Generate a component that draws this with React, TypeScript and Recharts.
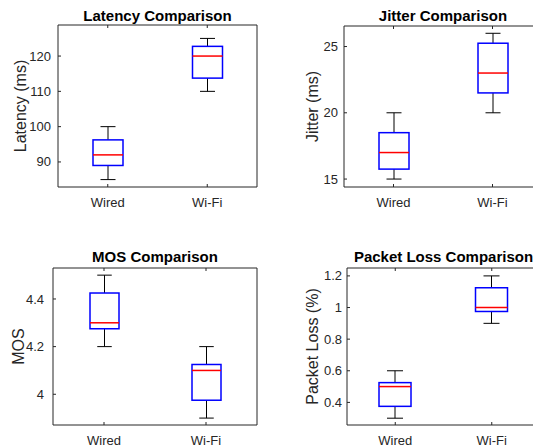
import { ComposedChart, Bar, XAxis, YAxis } from "recharts";

const categories = ["Wired", "Wi-Fi"];

const latencyMin = [85, 110];
const latencyQ1 = [89, 113.75];
const latencyMedian = [92, 120];
const latencyQ3 = [96.25, 122.75];
const latencyMax = [100, 125];
const latencyTicks = [90, 100, 110, 120];

const jitterMin = [15, 20];
const jitterQ1 = [15.75, 21.5];
const jitterMedian = [17, 23];
const jitterQ3 = [18.5, 25.25];
const jitterMax = [20, 26];
const jitterTicks = [15, 20, 25];

const mosMin = [4.2, 3.9];
const mosQ1 = [4.275, 3.975];
const mosMedian = [4.3, 4.1];
const mosQ3 = [4.425, 4.125];
const mosMax = [4.5, 4.2];
const mosTicks = [4, 4.2, 4.4];

const lossMin = [0.3, 0.9];
const lossQ1 = [0.375, 0.975];
const lossMedian = [0.5, 1.0];
const lossQ3 = [0.525, 1.125];
const lossMax = [0.6, 1.2];
const lossTicks = [0.4, 0.6, 0.8, 1, 1.2];

const AXIS = "#262626";
const FONT = "'Liberation Sans', Arial, Helvetica, sans-serif";

function rows(min: number[], q1: number[], med: number[], q3: number[], max: number[]) {
  return categories.map((name, i) => ({ name, min: min[i], q1: q1[i], med: med[i], q3: q3[i], max: max[i] }));
}

// box drawn inside the range bar [min, max]; inner values placed on the same linear scale
function BoxShape(props: any) {
  const { x, y, width, height, payload } = props;
  const { min, q1, med, q3, max } = payload;
  const py = (v: number) => y + (height * (max - v)) / (max - min);
  const cx = x + width / 2;
  const cap = width / 4;
  return (
    <g>
      <line x1={cx} x2={cx} y1={py(max)} y2={py(q3)} stroke="#000" strokeWidth={1} />
      <line x1={cx} x2={cx} y1={py(q1)} y2={py(min)} stroke="#000" strokeWidth={1} />
      <line x1={cx - cap} x2={cx + cap} y1={py(max)} y2={py(max)} stroke="#000" strokeWidth={1} />
      <line x1={cx - cap} x2={cx + cap} y1={py(min)} y2={py(min)} stroke="#000" strokeWidth={1} />
      <rect x={x} y={py(q3)} width={width} height={py(q1) - py(q3)} fill="none" stroke="#0000ff" strokeWidth={1.5} />
      <line x1={x} x2={x + width} y1={py(med)} y2={py(med)} stroke="#ff0000" strokeWidth={1.5} />
    </g>
  );
}

function Panel(p: any) {
  const { title, yLabel, data, domain, ticks, left, top, width, height, yw, mt, mr, xh, barSize, gap, labelX, titleOffset } = p;
  return (
    <div style={{ position: "absolute", left, top }}>
      <ComposedChart width={width} height={height} data={data} margin={{ top: 0, right: mr, bottom: 0, left: 0 }}>
        <XAxis
          xAxisId="b"
          dataKey="name"
          height={xh}
          tickSize={0}
          tickMargin={11}
          axisLine={{ stroke: AXIS }}
          tickLine={false}
          tick={(t: any) => (
            <g>
              <text x={t.x} y={t.y} dy="0.71em" textAnchor="middle" fontSize={13} fill={AXIS}>
                {t.payload.value}
              </text>
              <line x1={t.x} x2={t.x} y1={t.y - 11} y2={t.y - 14} stroke={AXIS} />
            </g>
          )}
        />
        <XAxis
          xAxisId="t"
          dataKey="name"
          orientation="top"
          height={mt}
          tickSize={0}
          tickMargin={0}
          axisLine={{ stroke: AXIS }}
          tickLine={false}
          tick={(t: any) => <line x1={t.x} x2={t.x} y1={t.y} y2={t.y + 3} stroke={AXIS} />}
          label={{ value: title, position: "insideBottom", offset: titleOffset, fontSize: 15, fontWeight: "bold", fill: "#000" }}
        />
        <YAxis
          yAxisId="l"
          type="number"
          width={yw}
          domain={domain}
          ticks={ticks}
          interval={0}
          tickSize={0}
          tickMargin={gap}
          axisLine={{ stroke: AXIS }}
          tickLine={false}
          tick={(t: any) => (
            <g>
              <text x={t.x} y={t.y} dy="0.35em" textAnchor="end" fontSize={13} fill={AXIS}>
                {String(t.payload.value)}
              </text>
              <line x1={t.x + gap} x2={t.x + gap + 3} y1={t.y} y2={t.y} stroke={AXIS} />
            </g>
          )}
          label={{ value: yLabel, angle: -90, position: "insideLeft", offset: labelX, fontSize: 16, fill: AXIS, style: { textAnchor: "middle" } }}
        />
        <YAxis
          yAxisId="r"
          type="number"
          orientation="right"
          width={1}
          domain={domain}
          ticks={ticks}
          interval={0}
          tickSize={0}
          tickMargin={0}
          axisLine={{ stroke: AXIS }}
          tickLine={false}
          tick={(t: any) => <line x1={t.x - 3} x2={t.x} y1={t.y} y2={t.y} stroke={AXIS} />}
        />
        <Bar
          xAxisId="b"
          yAxisId="l"
          dataKey={(d: any) => [d.min, d.max]}
          barSize={barSize}
          shape={BoxShape}
          isAnimationActive={false}
        />
      </ComposedChart>
    </div>
  );
}

export default function App() {
  return (
    <div
      style={{
        position: "absolute",
        left: 0,
        top: 0,
        width: 533,
        height: 447,
        overflow: "hidden",
        background: "#fff",
        fontFamily: FONT,
      }}
    >
      <Panel
        title="Latency Comparison"
        yLabel="Latency (ms)"
        data={rows(latencyMin, latencyQ1, latencyMedian, latencyQ3, latencyMax)}
        domain={[82.9, 128.8]}
        ticks={latencyTicks}
        left={0}
        top={0}
        width={270}
        height={215}
        yw={58}
        mt={25}
        mr={12}
        xh={28}
        barSize={30}
        gap={7}
        labelX={20}
        titleOffset={4}
      />
      <Panel
        title="Jitter Comparison"
        yLabel="Jitter (ms)"
        data={rows(jitterMin, jitterQ1, jitterMedian, jitterQ3, jitterMax)}
        domain={[14.4, 26.55]}
        ticks={jitterTicks}
        left={270}
        top={0}
        width={290}
        height={215}
        yw={74}
        mt={26}
        mr={17}
        xh={28}
        barSize={30}
        gap={6}
        labelX={42}
        titleOffset={5}
      />
      <Panel
        title="MOS Comparison"
        yLabel="MOS"
        data={rows(mosMin, mosQ1, mosMedian, mosQ3, mosMax)}
        domain={[3.871, 4.53]}
        ticks={mosTicks}
        left={0}
        top={230}
        width={270}
        height={217}
        yw={53}
        mt={38}
        mr={12}
        xh={22}
        barSize={29}
        gap={9}
        labelX={18}
        titleOffset={6}
      />
      <Panel
        title="Packet Loss Comparison"
        yLabel="Packet Loss (%)"
        data={rows(lossMin, lossQ1, lossMedian, lossQ3, lossMax)}
        domain={[0.257, 1.25]}
        ticks={lossTicks}
        left={270}
        top={230}
        width={290}
        height={217}
        yw={77}
        mt={38}
        mr={19}
        xh={22}
        barSize={32}
        gap={5}
        labelX={42}
        titleOffset={6}
      />
    </div>
  );
}
